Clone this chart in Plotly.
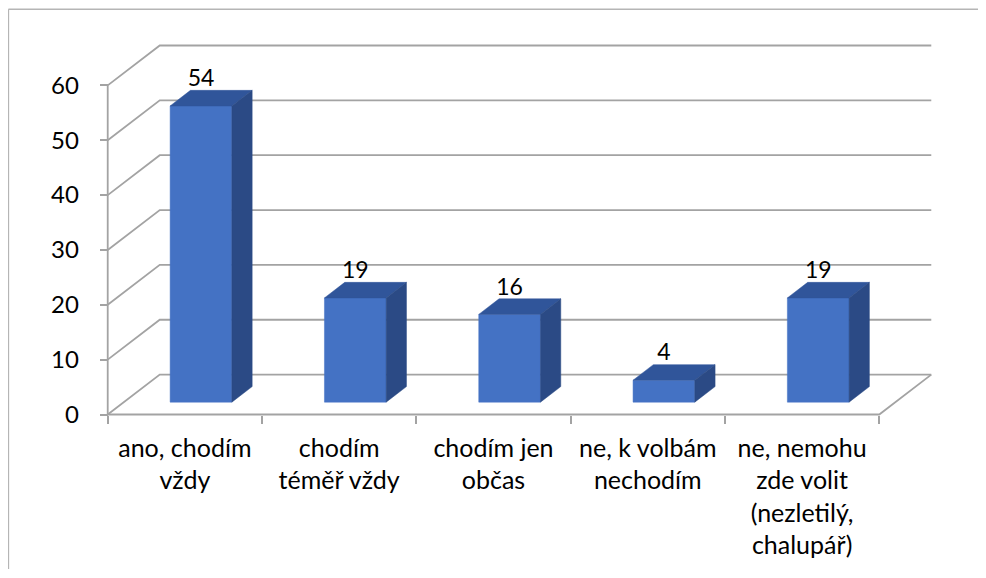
import plotly.graph_objects as go

# ---- data ----
categories = ["ano, chodím<br>vždy", "chodím<br>téměř vždy", "chodím jen<br>občas",
              "ne, k volbám<br>nechodím", "ne, nemohu<br>zde volit<br>(nezletilý,<br>chalupář)"]
values = [54, 19, 16, 4, 19]
y_ticks = [0, 10, 20, 30, 40, 50, 60]

# ---- geometry (oblique projection in data units) ----
OFF = 8                      # page body margin
W, H = 986 - 2 * OFF, 578 - 2 * OFF
SX, SY = 154.2, 5.5          # px per category / px per value unit
DX, DY = 52 / SX, 40 / SY    # full depth offset in data units
F_FRONT, F_BACK = 0.31, 0.70
BAR_W = 0.40
PAD_C, PAD_V = 0.05, 1.0
X0_PX, Y0_PX = 108 - OFF, 415 - OFF   # front-left corner of floor in figure pixels
n = len(values)
ymax = y_ticks[-1]

x_lo, x_hi = -0.5 - PAD_C, n - 0.5 + DX + PAD_C
y_lo, y_hi = -PAD_V, ymax + DY + PAD_V
l = X0_PX - PAD_C * SX
pw = (x_hi - x_lo) * SX
r = W - l - pw
b = H - Y0_PX - PAD_V * SY
ph = (y_hi - y_lo) * SY
t = H - b - ph

GRID = "#A3A3A3"
FRONT, TOP, SIDE = "#4472C4", "#30559A", "#2B4A85"
FONT = "Lato"

fig = go.Figure()

# grid: diagonals + back wall lines
gx, gy = [], []
for v in y_ticks:
    gx += [-0.5, -0.5 + DX, n - 0.5 + DX, None]
    gy += [v, v + DY, v + DY, None]
# front vertical axis line, floor front edge, floor right edge
gx += [-0.5, -0.5, None, -0.5, n - 0.5, n - 0.5 + DX, None]
gy += [0, ymax, None, 0, 0, DY, None]
fig.add_trace(go.Scatter(x=gx, y=gy, mode="lines", line=dict(color=GRID, width=1.8),
                         hoverinfo="skip", showlegend=False))

# bars
fx, fy, tx, ty, sx, sy = [], [], [], [], [], []
dxf, dyf = F_FRONT * DX, F_FRONT * DY
ddx, ddy = (F_BACK - F_FRONT) * DX, (F_BACK - F_FRONT) * DY
for i, v in enumerate(values):
    xl = i + dxf - BAR_W / 2
    xr = i + dxf + BAR_W / 2
    fx += [xl, xr, xr, xl, xl, None]
    fy += [dyf, dyf, v + dyf, v + dyf, dyf, None]
    tx += [xl, xr, xr + ddx, xl + ddx, xl, None]
    ty += [v + dyf, v + dyf, v + dyf + ddy, v + dyf + ddy, v + dyf, None]
    sx += [xr, xr + ddx, xr + ddx, xr, xr, None]
    sy += [dyf, dyf + ddy, v + dyf + ddy, v + dyf, dyf, None]
for xs, ys, c in [(fx, fy, FRONT), (tx, ty, TOP), (sx, sy, SIDE)]:
    fig.add_trace(go.Scatter(x=xs, y=ys, mode="lines", fill="toself", fillcolor=c,
                             line=dict(color=c, width=0.5), hoverinfo="skip", showlegend=False))

# data labels
fig.add_trace(go.Scatter(
    x=[i + dxf for i in range(n)], y=[v + 6.9 for v in values],
    mode="text", text=[str(v) for v in values], textposition="middle center",
    textfont=dict(family=FONT, size=23, color="#000000"),
    hoverinfo="skip", showlegend=False, cliponaxis=False))

# invisible trace for boundary tick axis
fig.add_trace(go.Scatter(x=[x_lo], y=[y_lo], xaxis="x2", mode="markers",
                         marker=dict(opacity=0), hoverinfo="skip", showlegend=False))

ypos = (0 - y_lo) / (y_hi - y_lo)
xpos = (-0.5 - x_lo) / (x_hi - x_lo)

fig.update_layout(
    width=W, height=H, autosize=False,
    margin=dict(l=l, r=r, t=t, b=b, pad=0),
    paper_bgcolor="white", plot_bgcolor="white",
    font=dict(family=FONT, color="#000000"),
    xaxis=dict(range=[x_lo, x_hi], domain=[0, 1], anchor="free", position=ypos,
               tickvals=list(range(n)), ticktext=categories,
               ticks="outside", ticklen=8, tickcolor="rgba(0,0,0,0)",
               ticklabelstandoff=3,
               tickfont=dict(family=FONT, size=25, color="#000000"),
               showgrid=False, zeroline=False, showline=False, fixedrange=True),
    xaxis2=dict(range=[x_lo, x_hi], overlaying="x", anchor="free", position=ypos, side="bottom",
                tickvals=[i - 0.5 for i in range(n + 1)], ticks="outside", ticklen=8,
                tickwidth=1.5, tickcolor=GRID, showticklabels=False,
                showgrid=False, zeroline=False, showline=False, fixedrange=True),
    yaxis=dict(range=[y_lo, y_hi], anchor="free", position=xpos,
               tickvals=y_ticks, ticks="outside", ticklen=8, tickwidth=1.5, tickcolor=GRID,
               ticklabelstandoff=16,
               tickfont=dict(family=FONT, size=24, color="#000000"),
               showgrid=False, zeroline=False, showline=False, fixedrange=True),
    shapes=[
        dict(type="line", xref="paper", yref="paper",
             x0=(0.75 - l) / pw, x1=(0.75 - l) / pw,
             y0=-(H - t - ph) / ph, y1=1 + (t - 0.75) / ph,
             line=dict(color="#B5B5B5", width=1.5), layer="below"),
        dict(type="line", xref="paper", yref="paper",
             x0=(0.75 - l) / pw, x1=(W - l) / pw,
             y0=1 + (t - 0.75) / ph, y1=1 + (t - 0.75) / ph,
             line=dict(color="#B5B5B5", width=1.5), layer="below"),
    ],
)

fig.write_html("out.html")
